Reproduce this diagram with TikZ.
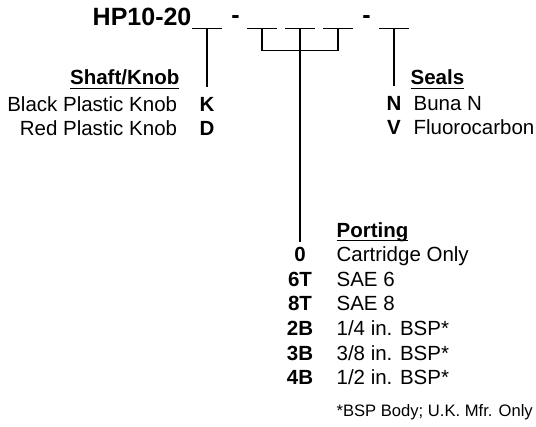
\documentclass[tikz,border=0pt]{standalone}
\usepackage{fontspec}
\setmainfont{Liberation Sans}
\usetikzlibrary{calc}
\tikzset{
  every picture/.style={line width=1.2pt},
  bigtitle/.style={inner sep=0pt, anchor=base, font=\fontsize{25pt}{30pt}\selectfont\bfseries},
  txt/.style={inner sep=0pt, anchor=base west, font=\fontsize{20.5pt}{24.6pt}\selectfont},
  head/.style={txt, font=\fontsize{20.5pt}{24.6pt}\selectfont\bfseries},
  code/.style={inner sep=0pt, anchor=base, font=\fontsize{20.5pt}{24.6pt}\selectfont\bfseries},
  foot/.style={txt, font=\fontsize{16.6pt}{20pt}\selectfont},
}
\newcommand{\hdr}[1]{\setbox0\hbox{#1}\rlap{\copy0}\rule[-4pt]{\wd0}{1.3pt}}

\begin{document}
\begin{tikzpicture}[x=1pt, y=-1pt]
  \useasboundingbox (0,0) rectangle (536,427);
  % model code with its blanks
  \node[bigtitle, anchor=base east] (model) at (192,26) {HP10-20};
  \foreach \x [count=\i] in {207,262,300,338,394} {
    \coordinate (slot\i) at (\x,28.3);
    \draw ($(slot\i)+(-15,0)$) -- ($(slot\i)+(15,0)$);
  }
  \node[bigtitle] (dashA) at (235.5,24) {-};
  \node[bigtitle] (dashB) at (366.5,24) {-};
  % shaft/knob
  \node[head, anchor=base east] (shaft) at (180,85) {\hdr{Shaft/Knob}};
  \foreach \c/\t/\y [count=\i] in {K/Black Plastic Knob/111.7, D/Red Plastic Knob/136} {
    \node[code] (knob\i) at (207,\y) {\c};
    \node[txt, anchor=base east] (knobtxt\i) at (177.7,\y) {\t};
  }
  \draw (slot1) -- ([yshift=10.3pt]knob1.north);
  % seals
  \node[head] (seals) at (410,85) {\hdr{Seals}};
  \foreach \c/\t/\y [count=\i] in {N/Buna N/111, V/Fluorocarbon/135} {
    \node[code] (seal\i) at (394,\y) {\c};
    \node[txt] (sealtxt\i) at (413,\y) {\t};
  }
  \draw (slot5) -- ([yshift=10.3pt]seal1.north);
  % porting
  \node[head] (porting) at (336,237.5) {\hdr{Porting}};
  \foreach \c/\t [count=\i] in {0/Cartridge Only, 6T/SAE 6, 8T/SAE 8,
      2B/{1/4 in. BSP*}, 3B/{3/8 in. BSP*}, 4B/{1/2 in. BSP*}} {
    \node[code] (port\i) at (300,{261.7+24.6*(\i-1)}) {\c};
    \node[txt] (porttxt\i) at (336,{261.7+24.6*(\i-1)}) {\t};
  }
  \draw (slot2) -- ++(0,22.4) -| (slot4);
  \draw (slot3) -- ([yshift=5pt]port1.north);
  \node[foot] (bspnote) at (336,416.7) {*BSP Body; U.K. Mfr. Only};
\end{tikzpicture}
\end{document}
